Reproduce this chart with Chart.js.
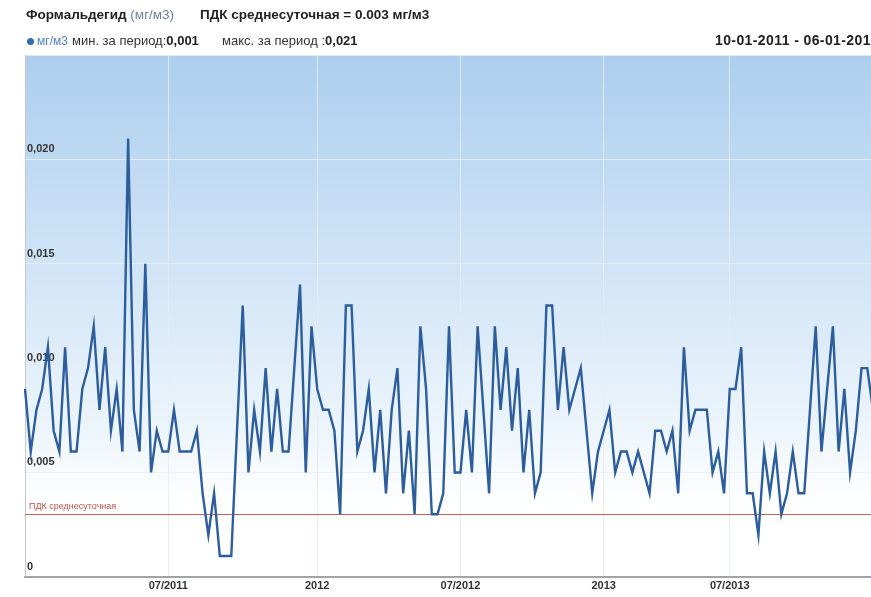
<!DOCTYPE html>
<html>
<head>
<meta charset="utf-8">
<script src="https://cdn.jsdelivr.net/npm/chart.js@4.4.1/dist/chart.umd.min.js"></script>
<style>
  html, body { margin: 0; padding: 0; background: #fff; overflow: hidden; }
  #wrap { position: relative; width: 871px; height: 597px; overflow: hidden; font-family: Arial, "Liberation Sans", sans-serif; }
  #chart { position: absolute; left: 0; top: 0; }
  .t { position: absolute; white-space: nowrap; color: #222; }
  .b { font-weight: bold; }
</style>
</head>
<body>
<div id="wrap">
  <canvas id="chart" width="876" height="597"></canvas>
  <div class="t b" style="left:26px; top:7px; font-size:13.5px;">Формальдегид <span style="font-weight:normal; color:#6a7f99;">(мг/м3)</span></div>
  <div class="t b" style="left:200px; top:7px; font-size:13.5px;">ПДК среднесуточная = 0.003 мг/м3</div>
  <div class="t" style="left:27px; top:38px; width:7px; height:7px; border-radius:50%; background:#2f6db5;"></div>
  <div class="t" style="left:37px; top:34px; font-size:12px; color:#4f86c6;">мг/м3</div>
  <div class="t" style="left:72px; top:33px; font-size:13px; color:#333;">мин. за период:<b style="color:#222;">0,001</b></div>
  <div class="t" style="left:222px; top:33px; font-size:13px; color:#333;">макс. за период :<b style="color:#222;">0,021</b></div>
  <div class="t b" style="left:715px; top:32px; font-size:14px; letter-spacing:0.4px;">10-01-2011 - 06-01-2014</div>
</div>
<script>
// weekly concentration, mg/m3
const values = [
  0.009, 0.006, 0.008, 0.009, 0.011, 0.007, 0.006, 0.011, 0.006, 0.006,
  0.009, 0.010, 0.012, 0.008, 0.011, 0.007, 0.009, 0.006, 0.021, 0.008,
  0.006, 0.015, 0.005, 0.007, 0.006, 0.006, 0.008, 0.006, 0.006, 0.006,
  0.007, 0.004, 0.002, 0.004, 0.001, 0.001, 0.001, 0.007, 0.013, 0.005,
  0.008, 0.006, 0.010, 0.006, 0.009, 0.006, 0.006, 0.010, 0.014, 0.005,
  0.012, 0.009, 0.008, 0.008, 0.007, 0.003, 0.013, 0.013, 0.006, 0.007,
  0.009, 0.005, 0.008, 0.004, 0.008, 0.010, 0.004, 0.007, 0.003, 0.012,
  0.009, 0.003, 0.003, 0.004, 0.012, 0.005, 0.005, 0.008, 0.005, 0.012,
  0.008, 0.004, 0.012, 0.008, 0.011, 0.007, 0.010, 0.005, 0.008, 0.004,
  0.005, 0.013, 0.013, 0.008, 0.011, 0.008, 0.009, 0.010, 0.007, 0.004,
  0.006, 0.007, 0.008, 0.005, 0.006, 0.006, 0.005, 0.006, 0.005, 0.004,
  0.007, 0.007, 0.006, 0.007, 0.004, 0.011, 0.007, 0.008, 0.008, 0.008,
  0.005, 0.006, 0.004, 0.009, 0.009, 0.011, 0.004, 0.004, 0.002, 0.006,
  0.004, 0.006, 0.003, 0.004, 0.006, 0.004, 0.004, 0.008, 0.012, 0.006,
  0.009, 0.012, 0.006, 0.009, 0.005, 0.007, 0.010, 0.010, 0.008
];
const weeks = values.map((v, i) => i);

// x axis labels and the week they sit on
const tickText = ['07/2011', '2012', '07/2012', '2013', '07/2013'];
const tickWeek = [25, 51, 76, 101, 123];

const pdk = 0.003;
const pdkLabel = 'ПДК среднесуточная';

const bgPlugin = {
  id: 'bg',
  beforeDraw(chart) {
    const { ctx, chartArea: a } = chart;
    const g = ctx.createLinearGradient(0, a.top, 0, a.bottom);
    g.addColorStop(0, '#acceee');
    g.addColorStop(0.4, '#d0e4f6');
    g.addColorStop(0.72, '#edf5fc');
    g.addColorStop(0.86, '#ffffff');
    g.addColorStop(1, '#ffffff');
    ctx.save();
    ctx.fillStyle = g;
    ctx.fillRect(a.left, a.top, a.right - a.left, a.bottom - a.top);
    ctx.strokeStyle = '#b8bcc2';
    ctx.lineWidth = 1;
    ctx.beginPath();
    ctx.moveTo(a.left, a.top + 0.5);
    ctx.lineTo(a.right, a.top + 0.5);
    ctx.stroke();
    ctx.restore();
  },
  beforeDatasetsDraw(chart) {
    const { ctx, chartArea: a } = chart;
    const y = Math.round(chart.scales.y.getPixelForValue(pdk)) + 0.5;
    ctx.save();
    ctx.strokeStyle = '#c2615f';
    ctx.lineWidth = 1;
    ctx.beginPath();
    ctx.moveTo(a.left, y);
    ctx.lineTo(a.right, y);
    ctx.stroke();
    ctx.fillStyle = '#c0504d';
    ctx.font = '9px Arial, "Liberation Sans", sans-serif';
    ctx.textBaseline = 'bottom';
    ctx.fillText(pdkLabel, a.left + 4, y - 3);
    ctx.restore();
  }
};

const ctx = document.getElementById('chart').getContext('2d');
new Chart(ctx, {
  type: 'line',
  data: {
    labels: weeks,
    datasets: [{
      data: values,
      borderColor: '#2c5d9c',
      borderWidth: 2.4,
      pointRadius: 0,
      tension: 0,
      fill: false
    }]
  },
  options: {
    responsive: false,
    animation: false,
    layout: { padding: { left: 21, top: 55, right: 0, bottom: 1 } },
    plugins: {
      legend: { display: false },
      tooltip: { enabled: false }
    },
    scales: {
      x: {
        offset: false,
        border: { color: '#a0a4aa', width: 2 },
        grid: {
          drawTicks: false,
          color: c => tickWeek.includes(c.index) ? 'rgba(228,236,244,0.9)' : 'rgba(0,0,0,0)'
        },
        ticks: {
          autoSkip: false,
          maxRotation: 0,
          padding: 3,
          color: '#333',
          font: { family: 'Arial, "Liberation Sans", sans-serif', size: 11, weight: 'bold' },
          callback: (v, i) => {
            const k = tickWeek.indexOf(i);
            return k >= 0 ? tickText[k] : '';
          }
        }
      },
      y: {
        min: 0,
        max: 0.025,
        border: { color: '#c4c8cc', width: 1 },
        grid: { drawTicks: false, color: 'rgba(232,240,248,0.85)' },
        ticks: {
          stepSize: 0.005,
          mirror: true,
          padding: 2,
          labelOffset: -10,
          color: '#333',
          font: { family: 'Arial, "Liberation Sans", sans-serif', size: 11, weight: 'bold' },
          callback: v => {
            if (Math.abs(v - 0.025) < 1e-9) return '';
            if (v === 0) return '0';
            return v.toFixed(3).replace('.', ',');
          }
        }
      }
    }
  },
  plugins: [bgPlugin]
});
</script>
</body>
</html>
